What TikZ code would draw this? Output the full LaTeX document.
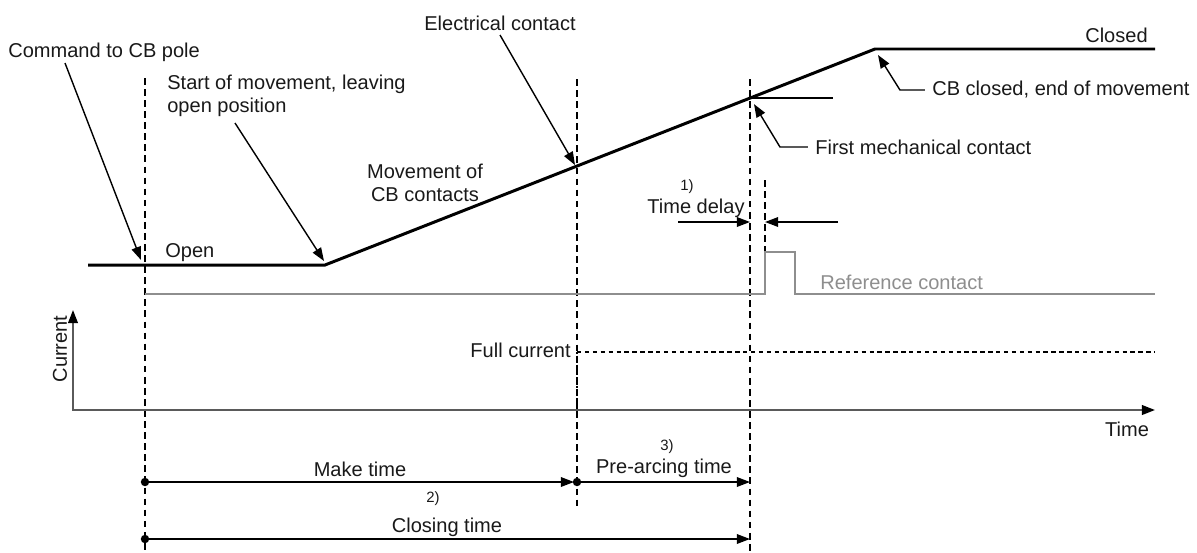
\documentclass[tikz,border=0pt]{standalone}
\usepackage{fontspec}
\setmainfont{Liberation Sans}
\usepackage{tikz}
\usetikzlibrary{calc}
\usetikzlibrary{arrows.meta}
\definecolor{refgray}{HTML}{8E8E8E}
\definecolor{axisgray}{HTML}{5A5A5A}
\newcommand{\dimdot}[1]{\fill (#1) circle (2.4pt);}

\begin{document}
\begin{tikzpicture}[x=0.02cm,y=-0.02cm,
        lbl/.style={font=\fontsize{11.4}{13.2}\selectfont,inner sep=0pt,text=black!90},
        tiny/.style={font=\fontsize{8.5}{10}\selectfont,inner sep=0pt,text=black!90},
        ptr/.style={line width=0.8pt,-{Triangle[length=7.5pt,width=5.5pt]}},
        guide/.style={line width=0.7pt,dash pattern=on 3.8pt off 2.5pt},
        dimarr/.style={line width=0.8pt,-{Triangle[length=7.5pt,width=5.5pt]}}]
        \useasboundingbox (0,0) rectangle (1197,552);
    %contact travel
        \coordinate (o1) at (88,265);
        \coordinate (o2) at (325,265);
        \coordinate (c1) at (875,49);
        \coordinate (c2) at (1155,49);
        \coordinate (ec) at ($(o2)!0.4582!(c1)$);
        \coordinate (mc) at ($(o2)!0.7727!(c1)$);
        \draw[line width=1.7pt] (o1) -- (o2) -- (c1) -- (c2);
        \draw[line width=0.8pt] (mc) -- ++(83,0);
    %guides
        \coordinate (g1) at (145,78);
        \coordinate (g2) at (577,79);
        \coordinate (g3) at (750,79);
        \coordinate (g4) at (765,180);
        \draw[guide] (g1) -- ++(0,474);
        \draw[guide] (g2) -- ++(0,431);
        \draw[guide] (g3) -- ++(0,473);
        \draw[guide] (g4) -- ++(0,72);
    %reference contact
        \draw[refgray,line width=1.5pt] (145,294) -- (765,294) -- (765,252) -- (795,252) -- (795,294) -- (1155,294);
    %current
        \draw[axisgray,line width=1.2pt,{Triangle[length=7.5pt,width=5.5pt,black]}-{Triangle[length=7.5pt,width=5.5pt,black]}] (73,310) -- (73,410) -- (1155,410);
        \draw[line width=1.4pt,dash pattern=on 2.5pt off 2pt] (577,352) -- (1155,352);
        \draw[line width=1.4pt,dash pattern=on 1.2pt off 1.2pt] (577,352) -- (577,410);
    %labels
        \node[lbl,anchor=west] (cmd) at (8,52) {Command to CB pole};
        \node[lbl,anchor=west,align=left] (start) at (167,96) {Start of movement, leaving\\open position};
        \node[lbl,align=center] (mov) at (425,183) {Movement of\\CB contacts};
        \node[lbl] (elec) at (500,23) {Electrical contact};
        \node[lbl,anchor=west] (mech) at (815,147) {First mechanical contact};
        \node[lbl,anchor=west] (cbc) at (932,90) {CB closed, end of movement};
        \node[lbl,anchor=east] (closed) at (1148,35) {Closed};
        \node[lbl,anchor=west] (open) at (165,253) {Open};
        \node[lbl,anchor=west,text=refgray] (refc) at (820,282) {Reference contact};
        \node[lbl,anchor=east] (full) at (571,350) {Full current};
        \node[lbl,rotate=90] (cur) at (60,349) {Current};
        \node[lbl] (time) at (1127,429) {Time};
        \node[tiny] (n1) at (687,187) {1)};
        \node[lbl] (tdel) at (696,208) {Time delay};
        \node[lbl] (make) at (360,469) {Make time};
        \node[tiny] (n2) at (433,499) {2)};
        \node[lbl] (closing) at (447,527) {Closing time};
        \node[tiny] (n3) at (667,447) {3)};
        \node[lbl] (pre) at (664,468) {Pre-arcing time};
    %pointers
        \coordinate (cmdtail) at (65,63);
        \coordinate (cmdtip) at (141,260);
        \coordinate (starttail) at (235,123);
        \coordinate (starttip) at (324,261);
        \coordinate (electail) at (500,35);
        \coordinate (mechtip) at ($(mc)+(4,6)$);
        \coordinate (cbctip) at ($(c1)+(3,6)$);
        \draw[ptr] (cmdtail) -- (cmdtip);
        \draw[ptr] (starttail) -- (starttip);
        \draw[ptr] (electail) -- ($(ec)+(-2,-1)$);
        \draw[ptr] ([xshift=-4pt]mech.west) -- ++(-28,0) -- (mechtip);
        \draw[ptr] ([xshift=-4pt]cbc.west) -- ++(-25,0) -- (cbctip);
    %times
        \coordinate (m0) at (145,482);
        \coordinate (m1) at (577,482);
        \coordinate (p1) at (750,482);
        \coordinate (k0) at (145,539);
        \coordinate (k1) at (750,539);
        \draw[dimarr] (m0) -- ($(m1)+(-3,0)$);
        \draw[dimarr] (m1) -- (p1);
        \draw[dimarr] (k0) -- (k1);
        \dimdot{m0} \dimdot{m1} \dimdot{k0}
        \coordinate (td0) at (678,222);
        \coordinate (td1) at (838,222);
        \draw[dimarr] (td0) -- (g3 |- td0);
        \draw[dimarr] (td1) -- (g4 |- td1);
        \end{tikzpicture}
\end{document}
